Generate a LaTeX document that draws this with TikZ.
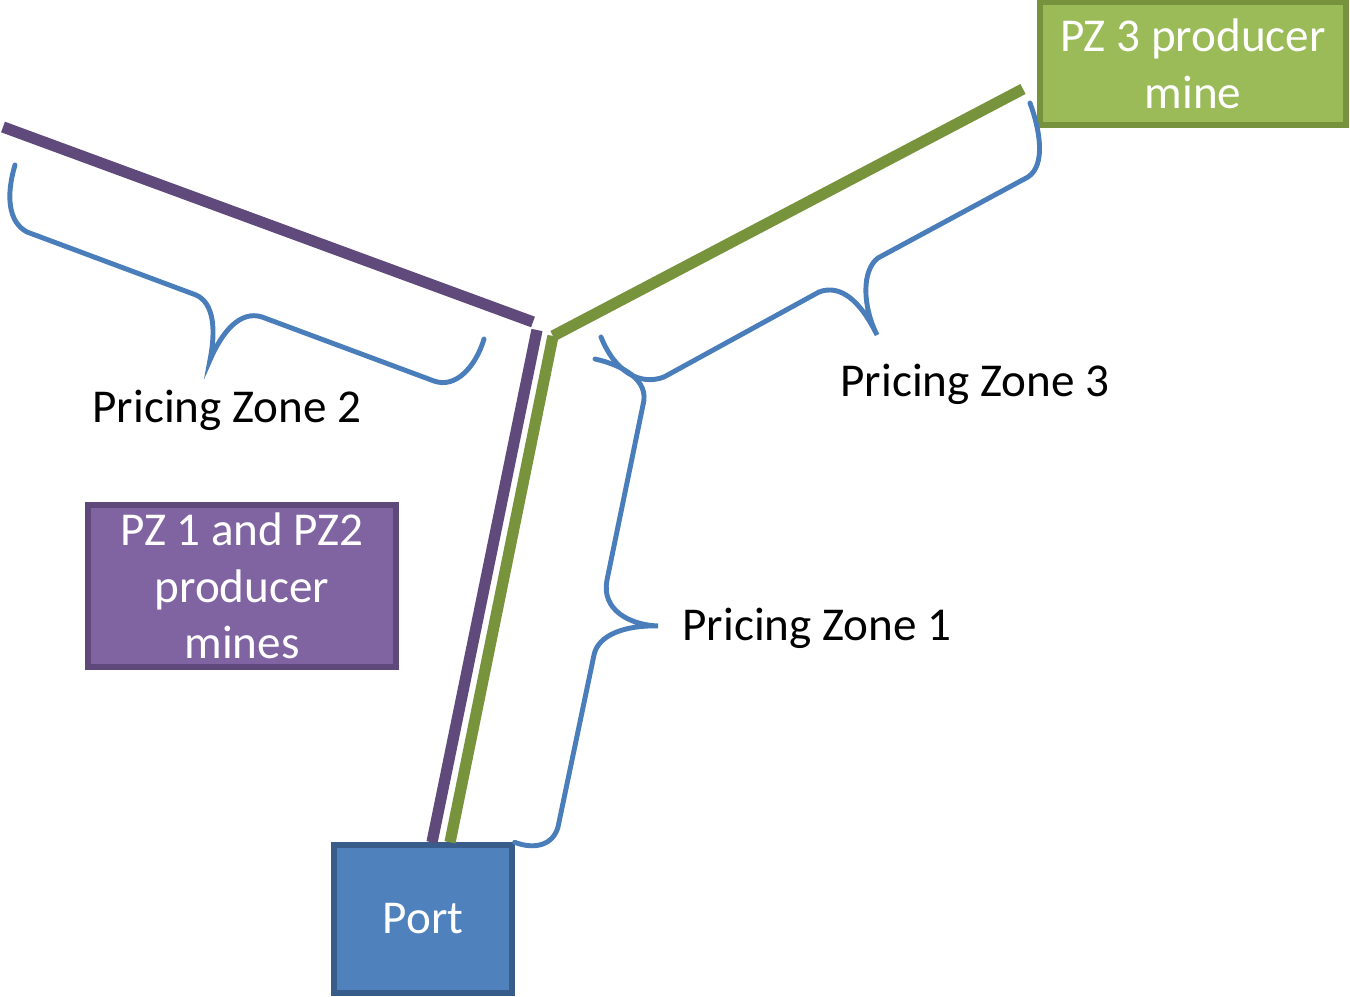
\documentclass[tikz,border=0pt]{standalone}
\usepackage{fontspec}
\setmainfont{Carlito}
\usepackage{tikz}
\usetikzlibrary{positioning}
\definecolor{railpurple}{RGB}{96, 74, 123}
\definecolor{railgreen}{RGB}{119, 147, 60}
\definecolor{bracecolor}{RGB}{74, 126, 187}
\definecolor{portcolor}{RGB}{79, 129, 189}
\definecolor{portborder}{RGB}{56, 93, 138}
\definecolor{pzonecolor}{RGB}{128, 100, 162}
\definecolor{pzoneborder}{RGB}{94, 73, 122}
\definecolor{pzthreecolor}{RGB}{155, 187, 89}
\definecolor{pzthreeborder}{RGB}{118, 146, 60}
\newcommand{\zonefont}{\fontsize{13.4}{16.1}\selectfont}

\begin{document}
\begin{tikzpicture}[x=0.01cm, y=-0.01cm,
    zone/.style={font=\zonefont, inner sep=0pt},
    minebox/.style={line width=1.5pt, align=center, text=white, font=\zonefont, inner sep=0pt},
    rail/.style={line width=3.2pt},
    brace/.style={draw=bracecolor, line width=1.4pt, line cap=round}]
        \useasboundingbox (0,0) rectangle (1350,997);

        % Mines and port
        \node[minebox, fill=pzonecolor, draw=pzoneborder, minimum width=3.08cm, minimum height=1.62cm] (mines12) at (242,586) {PZ 1 and PZ2\\producer\\mines};
        \node[minebox, fill=pzthreecolor, draw=pzthreeborder, minimum width=3.06cm, minimum height=1.23cm] (mine3) at (1193,63.5) {PZ 3 producer\\mine};
        \node[minebox, fill=portcolor, draw=portborder, minimum width=1.78cm, minimum height=1.48cm] (port) at (423,919) {Port};

        % Rail lines
        \coordinate (p2end) at (3,127);
        \coordinate (p2knee) at (533,322);
        \coordinate (p1top) at (537,330);
        \coordinate (g3end) at (1023,89);
        \coordinate (gknee) at (553,336);
        \draw[rail, railpurple] (p2end) -- (p2knee);
        \draw[rail, railpurple] (p1top) -- ([xshift=0.09cm]port.north);
        \draw[rail, railgreen] (g3end) -- (gknee);
        \draw[rail, railgreen] (gknee) -- ([xshift=0.27cm]port.north);

        % Braces
        \draw[brace] (15,165) .. controls (6,195) and (8,222) .. (27,232) -- (196,295)
            .. controls (214,303) and (216,330) .. (210,360)
            .. controls (222,332) and (240,310) .. (262,317) -- (434,381)
            .. controls (456,389) and (476,366) .. (484,339);
        \draw[brace] (1030,103) .. controls (1040,130) and (1046,165) .. (1028,177) -- (878,258)
            .. controls (862,270) and (862,305) .. (877,335)
            .. controls (860,300) and (840,284) .. (819,292) -- (664,377)
            .. controls (640,386) and (615,372) .. (601,337);
        \draw[brace] (595,359) .. controls (622,365) and (650,380) .. (643,405) -- (607,580)
            .. controls (601,610) and (630,625) .. (658,626)
            .. controls (625,625) and (598,635) .. (594,655) -- (558,827)
            .. controls (553,845) and (535,850) .. (port.north east);

        % Zone labels
        \node[zone, anchor=base] (zone2) at (227,423) {Pricing Zone 2};
        \node[zone, anchor=base] (zone3) at (975,397) {Pricing Zone 3};
        \node[zone, anchor=base] (zone1) at (817,641) {Pricing Zone 1};
    \end{tikzpicture}
\end{document}
